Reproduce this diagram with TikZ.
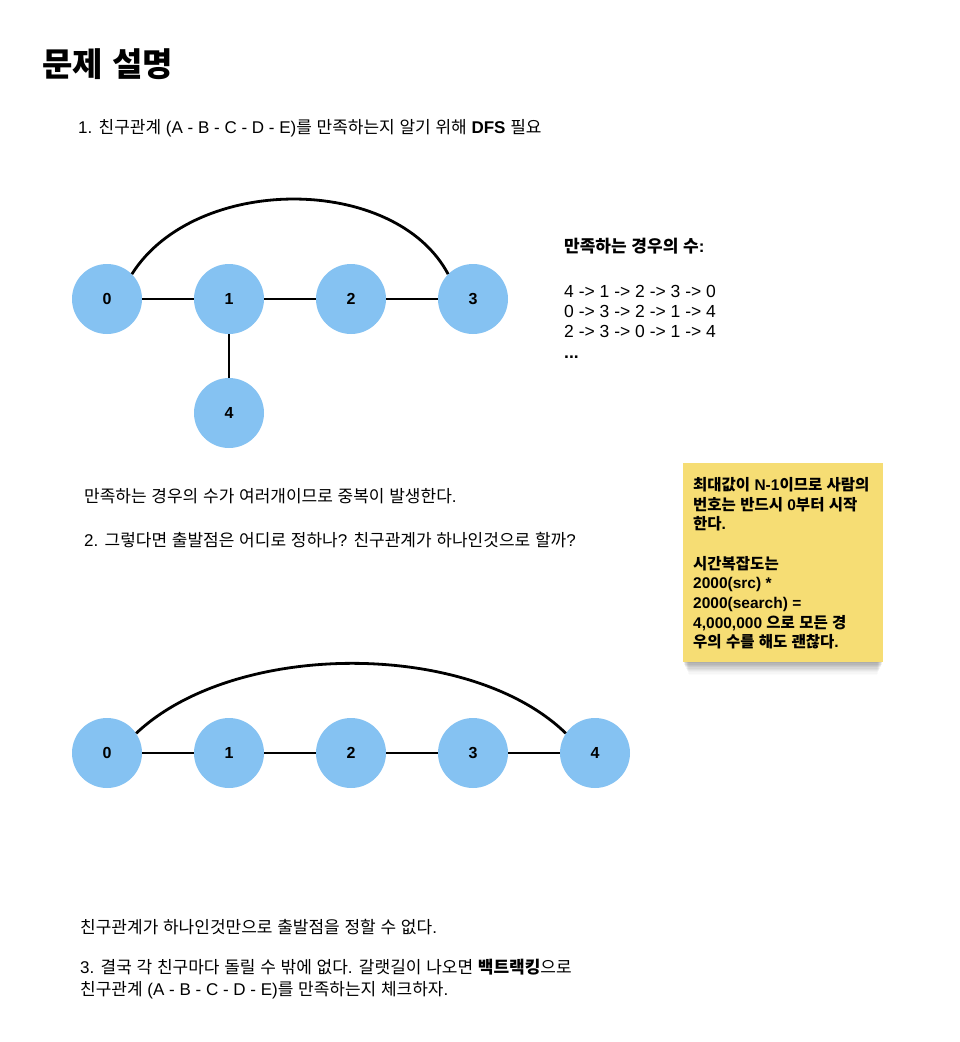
\documentclass[tikz,border=0pt]{standalone}
\usepackage{fontspec}
\setmainfont{Liberation Sans}
\newfontfamily\krfont{Noto Sans CJK KR}
% switch to the Korean font for Hangul syllables automatically
\XeTeXinterchartokenstate=1
\newXeTeXintercharclass\krclass
\count255="AC00
\loop
  \XeTeXcharclass\count255=\krclass
  \ifnum\count255<"D7A3 \advance\count255 by 1
\repeat
\XeTeXinterchartoks 0 \krclass = {\krfont}
\XeTeXinterchartoks 4095 \krclass = {\krfont}
\XeTeXinterchartoks \krclass 0 = {\rmfamily}
\XeTeXinterchartoks \krclass 4095 = {\rmfamily}
\definecolor{nodeblue}{RGB}{133,194,242}
\definecolor{noteyellow}{RGB}{246,221,116}
\tikzset{
  vtx/.style={circle, fill=nodeblue, minimum size=70pt, inner sep=0pt, font=\fontsize{16}{18}\selectfont\bfseries},
  edge/.style={line width=2.8pt, black},
  txt/.style={anchor=west, inner sep=0pt, align=left, font=\fontsize{17}{22}\selectfont},
  notetxt/.style={anchor=north west, inner sep=0pt, align=left, font=\fontsize{15.5}{19.7}\selectfont\bfseries}
}
\begin{document}
\begin{tikzpicture}[x=1pt,y=-1pt]
\useasboundingbox[fill=white] (0,0) rectangle (960,1042);

% title
\node[anchor=west, inner sep=0pt, font=\fontsize{33}{38}\selectfont\bfseries] (title) at (42,64) {문제 설명};
\node[txt] (l1) at (78,128) {1. 친구관계 (A - B - C - D - E)를 만족하는지 알기 위해 \textbf{DFS} 필요};

% top graph
\node[vtx] (a0) at (107,299) {0};
\node[vtx] (a1) at (229,299) {1};
\node[vtx] (a2) at (351,299) {2};
\node[vtx] (a3) at (473,299) {3};
\node[vtx] (a4) at (229,413) {4};
\draw[edge] (a0) -- (a1);
\draw[edge] (a1) -- (a2);
\draw[edge] (a2) -- (a3);
\draw[edge] (a1) -- (a4);
\draw[edge] (a0.north east) .. controls (195,174) and (395,174) .. (a3.north west);

% cases
\node[txt, font=\fontsize{17}{22}\selectfont\bfseries] (casehead) at (564,246) {만족하는 경우의 수:};
\node[txt, anchor=north west, font=\fontsize{17.5}{20}\selectfont] (cases) at (564,285) {4 -> 1 -> 2 -> 3 -> 0\\0 -> 3 -> 2 -> 1 -> 4\\2 -> 3 -> 0 -> 1 -> 4\\[1pt]\textbf{...}};

% middle text
\node[txt] (m1) at (84,496) {만족하는 경우의 수가 여러개이므로 중복이 발생한다.};
\node[txt] (m2) at (84,540) {2. 그렇다면 출발점은 어디로 정하나? 친구관계가 하나인것으로 할까?};

% sticky note with soft shadow
\foreach \i/\o in {1/0.05,2/0.05,3/0.05,4/0.045,5/0.04,6/0.035,7/0.03,8/0.025,9/0.02,10/0.015} {
  \fill[black, opacity=\o] (683+\i*0.6,463+\i*1.3) rectangle (883-\i*0.6,662+\i*1.3);
}
\fill[noteyellow] (683,463) rectangle (883,662);
\node[notetxt] (note) at (693,477) {최대값이 N-1이므로 사람의\\번호는 반드시 0부터 시작\\한다.\\[19.7pt]시간복잡도는\\2000(src) *\\2000(search) =\\4,000,000 으로 모든 경\\우의 수를 해도 괜찮다.};

% bottom graph
\node[vtx] (b0) at (107,753) {0};
\node[vtx] (b1) at (229,753) {1};
\node[vtx] (b2) at (351,753) {2};
\node[vtx] (b3) at (473,753) {3};
\node[vtx] (b4) at (595,753) {4};
\draw[edge] (b0) -- (b1);
\draw[edge] (b1) -- (b2);
\draw[edge] (b2) -- (b3);
\draw[edge] (b3) -- (b4);
\draw[edge] (b0.34) .. controls (235,640) and (470,640) .. (b4.146);

% bottom text
\node[txt] (e1) at (80,927) {친구관계가 하나인것만으로 출발점을 정할 수 없다.};
\node[txt, anchor=north west] (e2) at (80,959) {3. 결국 각 친구마다 돌릴 수 밖에 없다. 갈랫길이 나오면 \textbf{백트랙킹}으로\\친구관계 (A - B - C - D - E)를 만족하는지 체크하자.};
\end{tikzpicture}
\end{document}
